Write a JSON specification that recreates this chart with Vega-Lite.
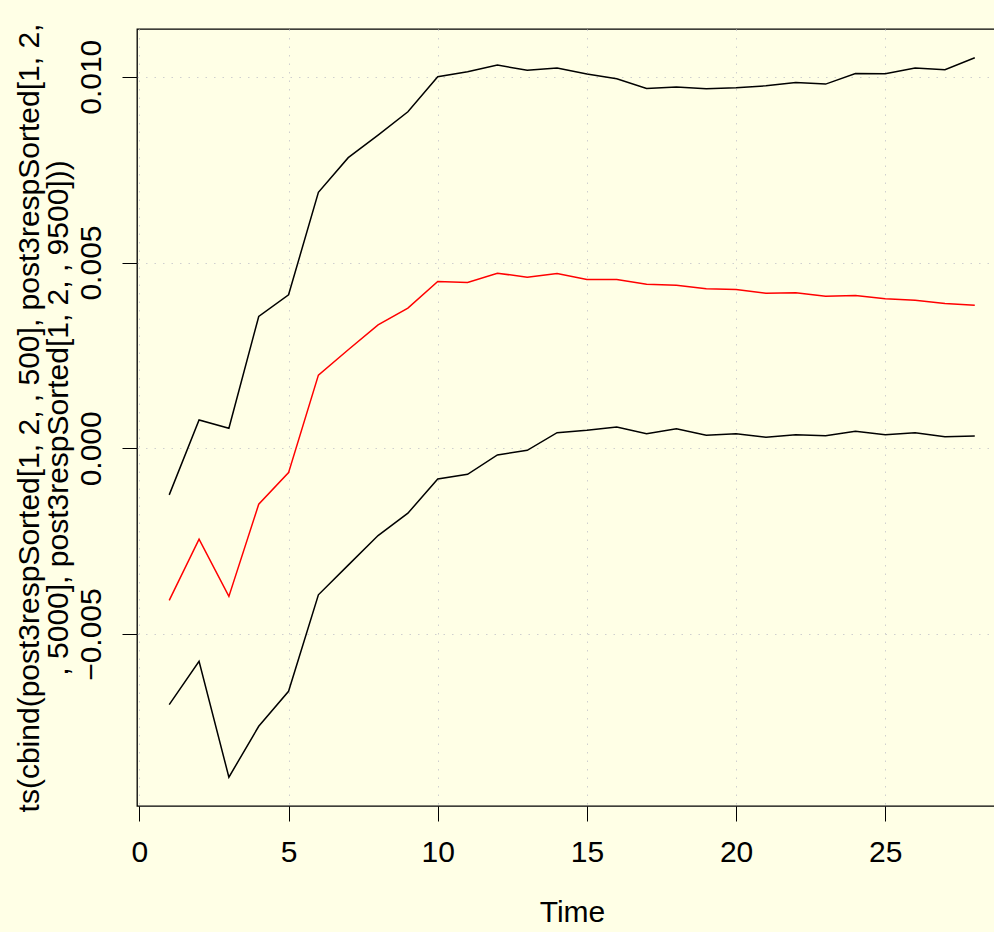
{
  "$schema": "https://vega.github.io/schema/vega-lite/v6.json",
  "autosize": {"type": "none"},
  "padding": {"left": 137, "top": 29, "right": 0, "bottom": 126},
  "width": 870,
  "height": 777,
  "background": "#FFFFE6",
  "config": {
    "view": {"stroke": "#000000", "strokeWidth": 1.3, "fill": "#FFFFE6"},
    "font": "Liberation Sans",
    "axis": {
      "domain": false,
      "grid": true,
      "gridColor": "#CFCFCF",
      "gridDash": [1.5, 7],
      "gridWidth": 1,
      "tickColor": "#000000",
      "tickSize": 15,
      "tickWidth": 1,
      "labelFont": "Liberation Sans",
      "labelFontSize": 30,
      "labelColor": "#000000",
      "titleFont": "Liberation Sans",
      "titleFontSize": 30,
      "titleFontWeight": "normal",
      "titleColor": "#000000"
    }
  },
  "data": {
    "values": [
      {"t": 1, "series": "q500", "value": -0.006900},
      {"t": 2, "series": "q500", "value": -0.005735},
      {"t": 3, "series": "q500", "value": -0.008853},
      {"t": 4, "series": "q500", "value": -0.007482},
      {"t": 5, "series": "q500", "value": -0.006541},
      {"t": 6, "series": "q500", "value": -0.003943},
      {"t": 7, "series": "q500", "value": -0.003145},
      {"t": 8, "series": "q500", "value": -0.002348},
      {"t": 9, "series": "q500", "value": -0.001747},
      {"t": 10, "series": "q500", "value": -0.000824},
      {"t": 11, "series": "q500", "value": -0.000699},
      {"t": 12, "series": "q500", "value": -0.000179},
      {"t": 13, "series": "q500", "value": -0.000054},
      {"t": 14, "series": "q500", "value": 0.000421},
      {"t": 15, "series": "q500", "value": 0.000484},
      {"t": 16, "series": "q500", "value": 0.000573},
      {"t": 17, "series": "q500", "value": 0.000394},
      {"t": 18, "series": "q500", "value": 0.000529},
      {"t": 19, "series": "q500", "value": 0.000349},
      {"t": 20, "series": "q500", "value": 0.000394},
      {"t": 21, "series": "q500", "value": 0.000296},
      {"t": 22, "series": "q500", "value": 0.000367},
      {"t": 23, "series": "q500", "value": 0.000341},
      {"t": 24, "series": "q500", "value": 0.000457},
      {"t": 25, "series": "q500", "value": 0.000367},
      {"t": 26, "series": "q500", "value": 0.000421},
      {"t": 27, "series": "q500", "value": 0.000314},
      {"t": 28, "series": "q500", "value": 0.000332},
      {"t": 1, "series": "q5000", "value": -0.004095},
      {"t": 2, "series": "q5000", "value": -0.002446},
      {"t": 3, "series": "q5000", "value": -0.003987},
      {"t": 4, "series": "q5000", "value": -0.001505},
      {"t": 5, "series": "q5000", "value": -0.000654},
      {"t": 6, "series": "q5000", "value": 0.001971},
      {"t": 7, "series": "q5000", "value": 0.002652},
      {"t": 8, "series": "q5000", "value": 0.003324},
      {"t": 9, "series": "q5000", "value": 0.003772},
      {"t": 10, "series": "q5000", "value": 0.004489},
      {"t": 11, "series": "q5000", "value": 0.004462},
      {"t": 12, "series": "q5000", "value": 0.004713},
      {"t": 13, "series": "q5000", "value": 0.004606},
      {"t": 14, "series": "q5000", "value": 0.004704},
      {"t": 15, "series": "q5000", "value": 0.004543},
      {"t": 16, "series": "q5000", "value": 0.004543},
      {"t": 17, "series": "q5000", "value": 0.004418},
      {"t": 18, "series": "q5000", "value": 0.004391},
      {"t": 19, "series": "q5000", "value": 0.004292},
      {"t": 20, "series": "q5000", "value": 0.004274},
      {"t": 21, "series": "q5000", "value": 0.004176},
      {"t": 22, "series": "q5000", "value": 0.004185},
      {"t": 23, "series": "q5000", "value": 0.004095},
      {"t": 24, "series": "q5000", "value": 0.004113},
      {"t": 25, "series": "q5000", "value": 0.004023},
      {"t": 26, "series": "q5000", "value": 0.003987},
      {"t": 27, "series": "q5000", "value": 0.003898},
      {"t": 28, "series": "q5000", "value": 0.003853},
      {"t": 1, "series": "q9500", "value": -0.001254},
      {"t": 2, "series": "q9500", "value": 0.000762},
      {"t": 3, "series": "q9500", "value": 0.000538},
      {"t": 4, "series": "q9500", "value": 0.003548},
      {"t": 5, "series": "q9500", "value": 0.004131},
      {"t": 6, "series": "q9500", "value": 0.006891},
      {"t": 7, "series": "q9500", "value": 0.007823},
      {"t": 8, "series": "q9500", "value": 0.008432},
      {"t": 9, "series": "q9500", "value": 0.009059},
      {"t": 10, "series": "q9500", "value": 0.010000},
      {"t": 11, "series": "q9500", "value": 0.010134},
      {"t": 12, "series": "q9500", "value": 0.010314},
      {"t": 13, "series": "q9500", "value": 0.010179},
      {"t": 14, "series": "q9500", "value": 0.010233},
      {"t": 15, "series": "q9500", "value": 0.010072},
      {"t": 16, "series": "q9500", "value": 0.009946},
      {"t": 17, "series": "q9500", "value": 0.009686},
      {"t": 18, "series": "q9500", "value": 0.009722},
      {"t": 19, "series": "q9500", "value": 0.009677},
      {"t": 20, "series": "q9500", "value": 0.009704},
      {"t": 21, "series": "q9500", "value": 0.009758},
      {"t": 22, "series": "q9500", "value": 0.009848},
      {"t": 23, "series": "q9500", "value": 0.009803},
      {"t": 24, "series": "q9500", "value": 0.010090},
      {"t": 25, "series": "q9500", "value": 0.010081},
      {"t": 26, "series": "q9500", "value": 0.010233},
      {"t": 27, "series": "q9500", "value": 0.010188},
      {"t": 28, "series": "q9500", "value": 0.010511}
    ]
  },
  "mark": {"type": "line", "strokeWidth": 1.5, "clip": true},
  "encoding": {
    "x": {
      "field": "t",
      "type": "quantitative",
      "scale": {"domain": [-0.08, 29.08], "nice": false, "zero": false},
      "axis": {
        "title": "Time",
        "values": [0, 5, 10, 15, 20, 25],
        "format": "d",
        "labelPadding": 16,
        "labelAlign": "center",
        "labelBaseline": "top",
        "titleX": 435,
        "titleY": 115,
        "titleAlign": "center",
        "titleBaseline": "alphabetic"
      }
    },
    "y": {
      "field": "value",
      "type": "quantitative",
      "scale": {"domain": [-0.009628, 0.011286], "nice": false, "zero": false},
      "axis": {
        "title": ["ts(cbind(post3respSorted[1, 2, , 500], post3respSorted[1, 2,", ", 5000], post3respSorted[1, 2, , 9500]))"],
        "values": [-0.005, 0, 0.005, 0.01],
        "format": ".3f",
        "labelAngle": -90,
        "labelAlign": "center",
        "labelBaseline": "bottom",
        "labelPadding": 16,
        "titleAngle": -90,
        "titleX": -99,
        "titleY": 388.5,
        "titleAlign": "center",
        "titleBaseline": "alphabetic",
        "titleLineHeight": 29
      }
    },
    "color": {
      "field": "series",
      "type": "nominal",
      "scale": {"domain": ["q500", "q5000", "q9500"], "range": ["#000000", "#FF0000", "#000000"]},
      "legend": null
    },
    "detail": {"field": "series"}
  }
}
